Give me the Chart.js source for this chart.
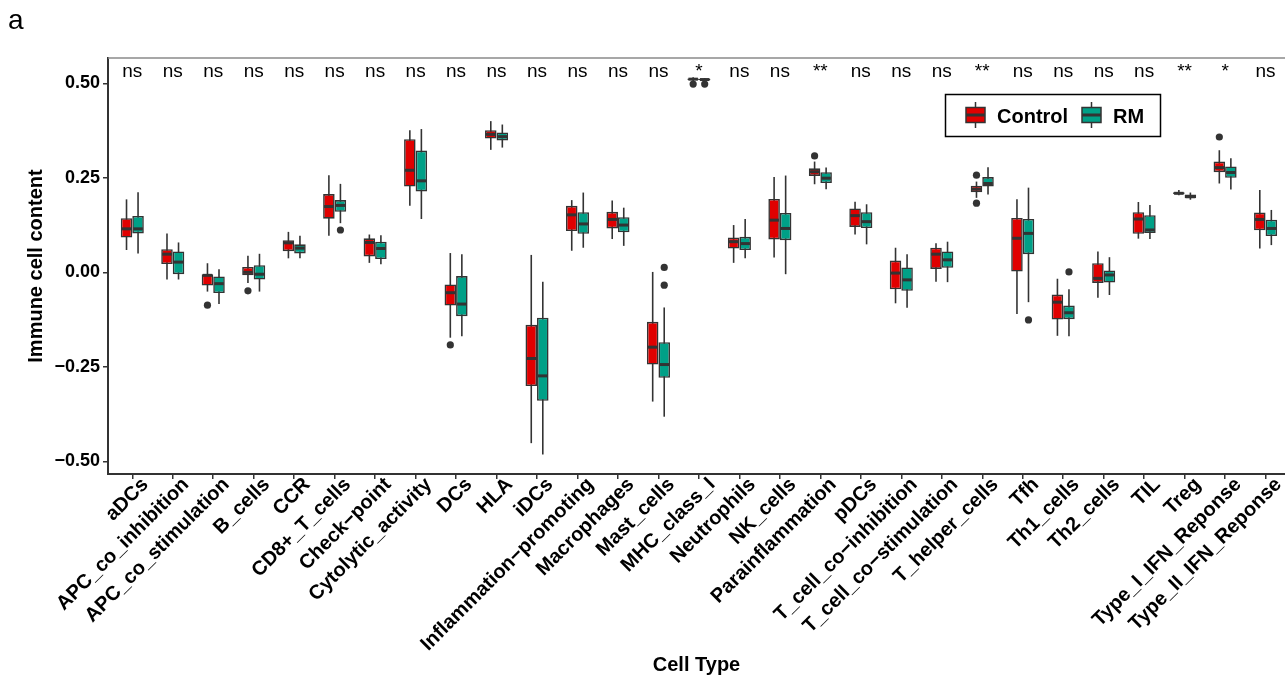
<!DOCTYPE html>
<html>
<head>
<meta charset="utf-8">
<script src="https://cdn.jsdelivr.net/npm/chart.js@4.4.1/dist/chart.umd.min.js"></script>
<style>
  html, body { margin: 0; padding: 0; background: #fff; }
</style>
</head>
<body>
<canvas id="boxChart" width="1285" height="681"></canvas>
<script>
// cell types, left to right
var categories = ['aDCs', 'APC_co_inhibition', 'APC_co_stimulation', 'B_cells', 'CCR',
  'CD8+_T_cells', 'Check\u2212point', 'Cytolytic_activity', 'DCs', 'HLA', 'iDCs',
  'Inflammation\u2212promoting', 'Macrophages', 'Mast_cells', 'MHC_class_I', 'Neutrophils',
  'NK_cells', 'Parainflammation', 'pDCs', 'T_cell_co\u2212inhibition', 'T_cell_co\u2212stimulation',
  'T_helper_cells', 'Tfh', 'Th1_cells', 'Th2_cells', 'TIL', 'Treg',
  'Type_I_IFN_Reponse', 'Type_II_IFN_Reponse'];

var sigLabels = ['ns', 'ns', 'ns', 'ns', 'ns', 'ns', 'ns', 'ns', 'ns', 'ns', 'ns', 'ns', 'ns', 'ns',
  '*', 'ns', 'ns', '**', 'ns', 'ns', 'ns', '**', 'ns', 'ns', 'ns', 'ns', '**', '*', 'ns'];

// Control group: whisker ends, quartiles, median, outliers
var ctrlLow  = [0.059, -0.019, -0.051, -0.028, 0.037, 0.097, 0.025, 0.176, -0.173, 0.324, -0.452, 0.057, 0.088, -0.342, 0.506,
  0.025, 0.039, 0.233, 0.100, -0.082, -0.025, 0.197, -0.110, -0.168, -0.067, 0.089, 0.204, 0.235, 0.063];
var ctrlQ1   = [0.092, 0.022, -0.035, -0.008, 0.056, 0.142, 0.042, 0.227, -0.088, 0.354, -0.301, 0.109, 0.116, -0.244, 0.509,
  0.063, 0.087, 0.255, 0.120, -0.045, 0.009, 0.212, 0.000, -0.125, -0.028, 0.102, 0.207, 0.265, 0.111];
var ctrlMed  = [0.115, 0.048, -0.008, 0.000, 0.078, 0.174, 0.079, 0.270, -0.054, 0.365, -0.228, 0.152, 0.140, -0.198, 0.511,
  0.081, 0.138, 0.266, 0.150, -0.002, 0.048, 0.220, 0.090, -0.079, -0.016, 0.141, 0.209, 0.277, 0.140];
var ctrlQ3   = [0.143, 0.061, -0.005, 0.014, 0.085, 0.207, 0.090, 0.352, -0.032, 0.376, -0.139, 0.176, 0.160, -0.131, 0.513,
  0.092, 0.194, 0.275, 0.169, 0.031, 0.065, 0.229, 0.144, -0.059, 0.024, 0.159, 0.212, 0.293, 0.158];
var ctrlHigh = [0.193, 0.103, 0.024, 0.044, 0.107, 0.257, 0.100, 0.376, 0.051, 0.400, 0.046, 0.191, 0.190, 0.001, 0.516,
  0.125, 0.252, 0.293, 0.187, 0.065, 0.077, 0.240, 0.193, -0.017, 0.055, 0.186, 0.218, 0.323, 0.218];
var ctrlOut  = [[], [], [-0.087], [-0.049], [], [], [], [], [-0.192], [], [], [], [], [], [0.498],
  [], [], [0.308], [], [], [], [0.257, 0.183], [], [], [], [], [], [0.358], []];

// RM group
var rmLow  = [0.050, -0.019, -0.084, -0.051, 0.037, 0.130, 0.021, 0.141, -0.169, 0.330, -0.482, 0.065, 0.070, -0.382, 0.505,
  0.037, -0.005, 0.220, 0.074, -0.094, -0.026, 0.206, -0.079, -0.169, -0.060, 0.088, 0.192, 0.219, 0.072];
var rmQ1   = [0.103, -0.005, -0.055, -0.019, 0.050, 0.160, 0.035, 0.214, -0.116, 0.349, -0.340, 0.102, 0.106, -0.279, 0.508,
  0.059, 0.085, 0.236, 0.117, -0.049, 0.012, 0.227, 0.048, -0.124, -0.027, 0.104, 0.196, 0.250, 0.096];
var rmMed  = [0.115, 0.027, -0.030, -0.005, 0.064, 0.177, 0.063, 0.242, -0.084, 0.359, -0.274, 0.128, 0.125, -0.244, 0.510,
  0.076, 0.116, 0.249, 0.134, -0.020, 0.033, 0.235, 0.103, -0.107, -0.007, 0.112, 0.200, 0.264, 0.116];
var rmQ3   = [0.149, 0.055, -0.011, 0.019, 0.074, 0.191, 0.081, 0.322, -0.010, 0.370, -0.120, 0.159, 0.146, -0.185, 0.512,
  0.094, 0.157, 0.265, 0.159, 0.013, 0.055, 0.252, 0.141, -0.088, 0.005, 0.151, 0.206, 0.280, 0.139];
var rmHigh = [0.212, 0.079, 0.008, 0.049, 0.097, 0.234, 0.098, 0.379, 0.048, 0.391, -0.025, 0.211, 0.171, -0.093, 0.514,
  0.141, 0.256, 0.277, 0.180, 0.048, 0.081, 0.278, 0.224, -0.045, 0.040, 0.178, 0.211, 0.302, 0.165];
var rmOut  = [[], [], [], [], [], [0.112], [], [], [], [], [], [], [], [0.013, -0.034], [0.498],
  [], [], [], [], [], [], [], [-0.126], [0.001], [], [], [], [], []];

var yTicks = [-0.5, -0.25, 0, 0.25, 0.5];

var groupNames = ['Control', 'RM'];
var groupColors = ['#E00000', '#00A087'];
var lineCol = '#333333';
var fontFam = "'Liberation Sans', Arial, Helvetica, sans-serif";

var stats = [
  { low: ctrlLow, med: ctrlMed, high: ctrlHigh, out: ctrlOut },
  { low: rmLow, med: rmMed, high: rmHigh, out: rmOut }
];

function boxData(q1, q3) {
  return q1.map(function (v, i) { return { x: i + 1, y: [v, q3[i]] }; });
}

function fmtTick(v) {
  return (v < 0 ? '\u2212' : '') + Math.abs(v).toFixed(2);
}

Chart.defaults.font.family = fontFam;

// whiskers go under the boxes, medians + outliers on top
var boxParts = {
  id: 'boxParts',
  beforeDatasetsDraw: function (chart) {
    var ctx = chart.ctx, y = chart.scales.y;
    ctx.save();
    ctx.strokeStyle = lineCol;
    ctx.lineWidth = 1.6;
    chart.data.datasets.forEach(function (ds, d) {
      var s = stats[d];
      chart.getDatasetMeta(d).data.forEach(function (bar, i) {
        ctx.beginPath();
        ctx.moveTo(bar.x, y.getPixelForValue(s.high[i]));
        ctx.lineTo(bar.x, y.getPixelForValue(s.low[i]));
        ctx.stroke();
      });
    });
    ctx.restore();
  },
  afterDatasetsDraw: function (chart) {
    var ctx = chart.ctx, y = chart.scales.y;
    ctx.save();
    chart.data.datasets.forEach(function (ds, d) {
      var s = stats[d];
      chart.getDatasetMeta(d).data.forEach(function (bar, i) {
        var half = bar.width / 2;
        ctx.strokeStyle = lineCol;
        ctx.lineWidth = 3;
        ctx.beginPath();
        var my = y.getPixelForValue(s.med[i]);
        ctx.moveTo(bar.x - half + 1, my);
        ctx.lineTo(bar.x + half - 1, my);
        ctx.stroke();
        ctx.fillStyle = lineCol;
        s.out[i].forEach(function (v) {
          ctx.beginPath();
          ctx.arc(bar.x, y.getPixelForValue(v), 3.6, 0, Math.PI * 2);
          ctx.fill();
        });
      });
    });
    ctx.restore();
  },
  afterDraw: function (chart) {
    var ctx = chart.ctx, x = chart.scales.x, y = chart.scales.y, area = chart.chartArea;
    ctx.save();
    // panel top edge
    ctx.strokeStyle = '#8a8a8a';
    ctx.lineWidth = 1.5;
    ctx.beginPath();
    ctx.moveTo(area.left, area.top);
    ctx.lineTo(area.right, area.top);
    ctx.stroke();

    // significance labels
    ctx.fillStyle = '#000';
    ctx.font = '19px ' + fontFam;
    ctx.textAlign = 'center';
    ctx.textBaseline = 'alphabetic';
    sigLabels.forEach(function (lab, i) {
      ctx.fillText(lab, x.getPixelForValue(i + 1), y.getPixelForValue(0.518));
    });

    // legend
    ctx.strokeStyle = '#000';
    ctx.lineWidth = 1.5;
    ctx.strokeRect(945.5, 94.5, 215, 42);
    var keyX = [966, 1082], textX = [997, 1113];
    ctx.font = 'bold 20px ' + fontFam;
    ctx.textAlign = 'left';
    for (var g = 0; g < 2; g++) {
      var kx = keyX[g], cx = kx + 9.5;
      ctx.strokeStyle = lineCol;
      ctx.lineWidth = 1.5;
      ctx.beginPath();
      ctx.moveTo(cx, 102); ctx.lineTo(cx, 128);
      ctx.stroke();
      ctx.fillStyle = groupColors[g];
      ctx.fillRect(kx, 107.5, 19, 15);
      ctx.strokeRect(kx, 107.5, 19, 15);
      ctx.lineWidth = 3;
      ctx.beginPath();
      ctx.moveTo(kx, 115); ctx.lineTo(kx + 19, 115);
      ctx.stroke();
      ctx.fillStyle = '#000';
      ctx.fillText(groupNames[g], textX[g], 122.5);
    }

    // panel tag
    ctx.font = '28px ' + fontFam;
    ctx.fillText('a', 8, 29);
    ctx.restore();
  }
};

new Chart(document.getElementById('boxChart'), {
  type: 'bar',
  data: {
    datasets: [
      {
        label: groupNames[0],
        data: boxData(ctrlQ1, ctrlQ3),
        backgroundColor: groupColors[0],
        borderColor: lineCol,
        borderWidth: 1.6,
        borderSkipped: false
      },
      {
        label: groupNames[1],
        data: boxData(rmQ1, rmQ3),
        backgroundColor: groupColors[1],
        borderColor: lineCol,
        borderWidth: 1.6,
        borderSkipped: false
      }
    ]
  },
  options: {
    responsive: false,
    animation: false,
    events: [],
    devicePixelRatio: 1,
    categoryPercentage: 0.57,
    barPercentage: 1,
    layout: { padding: { top: 58, left: 0, right: 0, bottom: 0 } },
    plugins: {
      legend: { display: false },
      tooltip: { enabled: false }
    },
    scales: {
      x: {
        type: 'linear',
        offset: false,
        min: 0.4,
        max: 29.48,
        afterBuildTicks: function (s) {
          s.ticks = categories.map(function (c, i) { return { value: i + 1 }; });
        },
        afterFit: function (s) {
          s.height = 207;
          s.paddingLeft = 0;
          s.paddingRight = 0;
        },
        ticks: {
          autoSkip: false,
          minRotation: 45,
          maxRotation: 45,
          padding: -6,
          labelOffset: 13,
          color: '#000',
          font: { size: 20, weight: 'bold' },
          callback: function (v) { return categories[v - 1] || ''; }
        },
        grid: { display: true, offset: false, drawOnChartArea: false, drawTicks: true, tickLength: 5, color: lineCol, lineWidth: 1.5 },
        border: { display: true, color: lineCol, width: 2 },
        title: {
          display: true,
          text: 'Cell Type',
          color: '#000',
          font: { size: 20, weight: 'bold' },
          padding: { top: 0, bottom: 4 }
        }
      },
      y: {
        min: -0.5336,
        max: 0.567,
        afterBuildTicks: function (s) {
          s.ticks = yTicks.map(function (v) { return { value: v }; });
        },
        afterFit: function (s) {
          s.width = 108;
          s.paddingTop = 0;
          s.paddingBottom = 0;
        },
        ticks: {
          padding: 3,
          color: '#000',
          font: { size: 18, weight: 'bold' },
          callback: fmtTick
        },
        grid: { display: true, drawOnChartArea: false, drawTicks: true, tickLength: 5, color: lineCol, lineWidth: 1.5 },
        border: { display: true, color: lineCol, width: 2 },
        title: {
          display: true,
          text: 'Immune cell content',
          color: '#000',
          font: { size: 20, weight: 'bold' },
          padding: { top: 24, bottom: 0 }
        }
      }
    }
  },
  plugins: [boxParts]
});
</script>
</body>
</html>
